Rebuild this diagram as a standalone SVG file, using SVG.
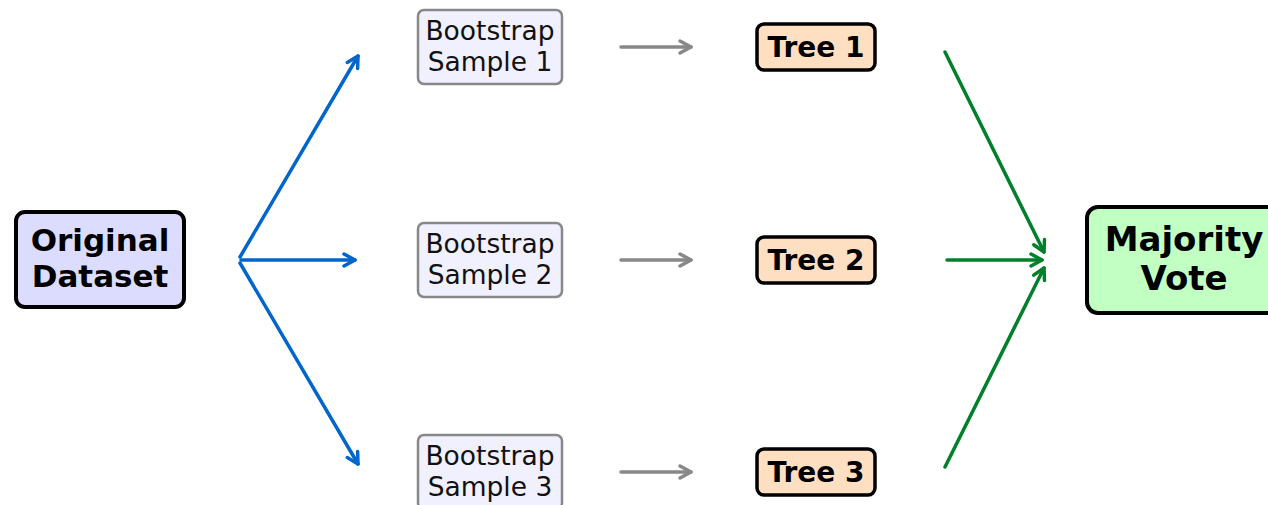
<svg xmlns="http://www.w3.org/2000/svg" width="1268" height="505" viewBox="0 0 1268 505">
<style>
.bold{font-family:"DejaVu Sans",sans-serif;font-weight:bold;fill:#000;text-anchor:middle}
.reg{font-family:"DejaVu Sans",sans-serif;fill:#111;text-anchor:middle}
.main{stroke:#000;stroke-width:4}
.samp{fill:#f0f0ff;stroke:#888;stroke-width:2.5}
.tree{fill:#ffdfc2;stroke:#000;stroke-width:3.5}
.c{fill:none;stroke-width:3.5;stroke-linecap:round}
</style>
<defs>
<marker id="hb" markerUnits="userSpaceOnUse" markerWidth="30" markerHeight="30" viewBox="-15 -15 30 30" refX="0" refY="0" orient="auto"><path d="M -11 -6 L 0 0 L -11 6" fill="none" stroke="#0066cc" stroke-width="3.5" stroke-linecap="round" stroke-linejoin="round"/></marker>
<marker id="hg" markerUnits="userSpaceOnUse" markerWidth="30" markerHeight="30" viewBox="-15 -15 30 30" refX="0" refY="0" orient="auto"><path d="M -11 -6 L 0 0 L -11 6" fill="none" stroke="#00802b" stroke-width="3.5" stroke-linecap="round" stroke-linejoin="round"/></marker>
<marker id="hy" markerUnits="userSpaceOnUse" markerWidth="30" markerHeight="30" viewBox="-15 -15 30 30" refX="0" refY="0" orient="auto"><path d="M -11 -6 L 0 0 L -11 6" fill="none" stroke="#888" stroke-width="3.5" stroke-linecap="round" stroke-linejoin="round"/></marker>
</defs>
<rect width="1268" height="505" fill="#fff"/>
<g id="connectors">
<line class="c" x1="240" y1="257" x2="358" y2="56" stroke="#0066cc" marker-end="url(#hb)"/>
<line class="c" x1="241" y1="260" x2="355" y2="260" stroke="#0066cc" marker-end="url(#hb)"/>
<line class="c" x1="240" y1="263" x2="358" y2="464" stroke="#0066cc" marker-end="url(#hb)"/>
<line class="c" x1="621" y1="47" x2="691" y2="47" stroke="#888" marker-end="url(#hy)"/>
<line class="c" x1="621" y1="260" x2="691" y2="260" stroke="#888" marker-end="url(#hy)"/>
<line class="c" x1="621" y1="472" x2="691" y2="472" stroke="#888" marker-end="url(#hy)"/>
<line class="c" x1="945" y1="52" x2="1044" y2="252" stroke="#00802b" marker-end="url(#hg)"/>
<line class="c" x1="947" y1="260" x2="1042" y2="260" stroke="#00802b" marker-end="url(#hg)"/>
<line class="c" x1="945" y1="467" x2="1044" y2="268" stroke="#00802b" marker-end="url(#hg)"/>
</g>
<g id="original">
<rect class="main" x="16" y="212" width="168" height="95" rx="9" fill="#dcdcfe"/>
<text class="bold" font-size="31" x="100" y="251">Original</text>
<text class="bold" font-size="31" x="100" y="287">Dataset</text>
</g>
<g id="sample1">
<rect class="samp" x="418" y="10" width="144" height="74" rx="6"/>
<text class="reg" font-size="26.5" x="490" y="40">Bootstrap</text>
<text class="reg" font-size="26.5" x="490" y="71">Sample 1</text>
</g>
<g id="sample2">
<rect class="samp" x="418" y="223" width="144" height="74" rx="6"/>
<text class="reg" font-size="26.5" x="490" y="253">Bootstrap</text>
<text class="reg" font-size="26.5" x="490" y="284">Sample 2</text>
</g>
<g id="sample3">
<rect class="samp" x="418" y="435" width="144" height="74" rx="6"/>
<text class="reg" font-size="26.5" x="490" y="465">Bootstrap</text>
<text class="reg" font-size="26.5" x="490" y="496">Sample 3</text>
</g>
<g id="tree1">
<rect class="tree" x="757" y="24" width="118" height="46" rx="7"/>
<text class="bold" font-size="28" x="816" y="57">Tree 1</text>
</g>
<g id="tree2">
<rect class="tree" x="757" y="237" width="118" height="46" rx="7"/>
<text class="bold" font-size="28" x="816" y="270">Tree 2</text>
</g>
<g id="tree3">
<rect class="tree" x="757" y="449" width="118" height="46" rx="7"/>
<text class="bold" font-size="28" x="816" y="482">Tree 3</text>
</g>
<g id="vote">
<rect class="main" x="1087" y="207" width="193" height="106" rx="11" fill="#c2ffc2"/>
<text class="bold" font-size="34" x="1184" y="251">Majority</text>
<text class="bold" font-size="34" x="1184" y="290">Vote</text>
</g>
</svg>
